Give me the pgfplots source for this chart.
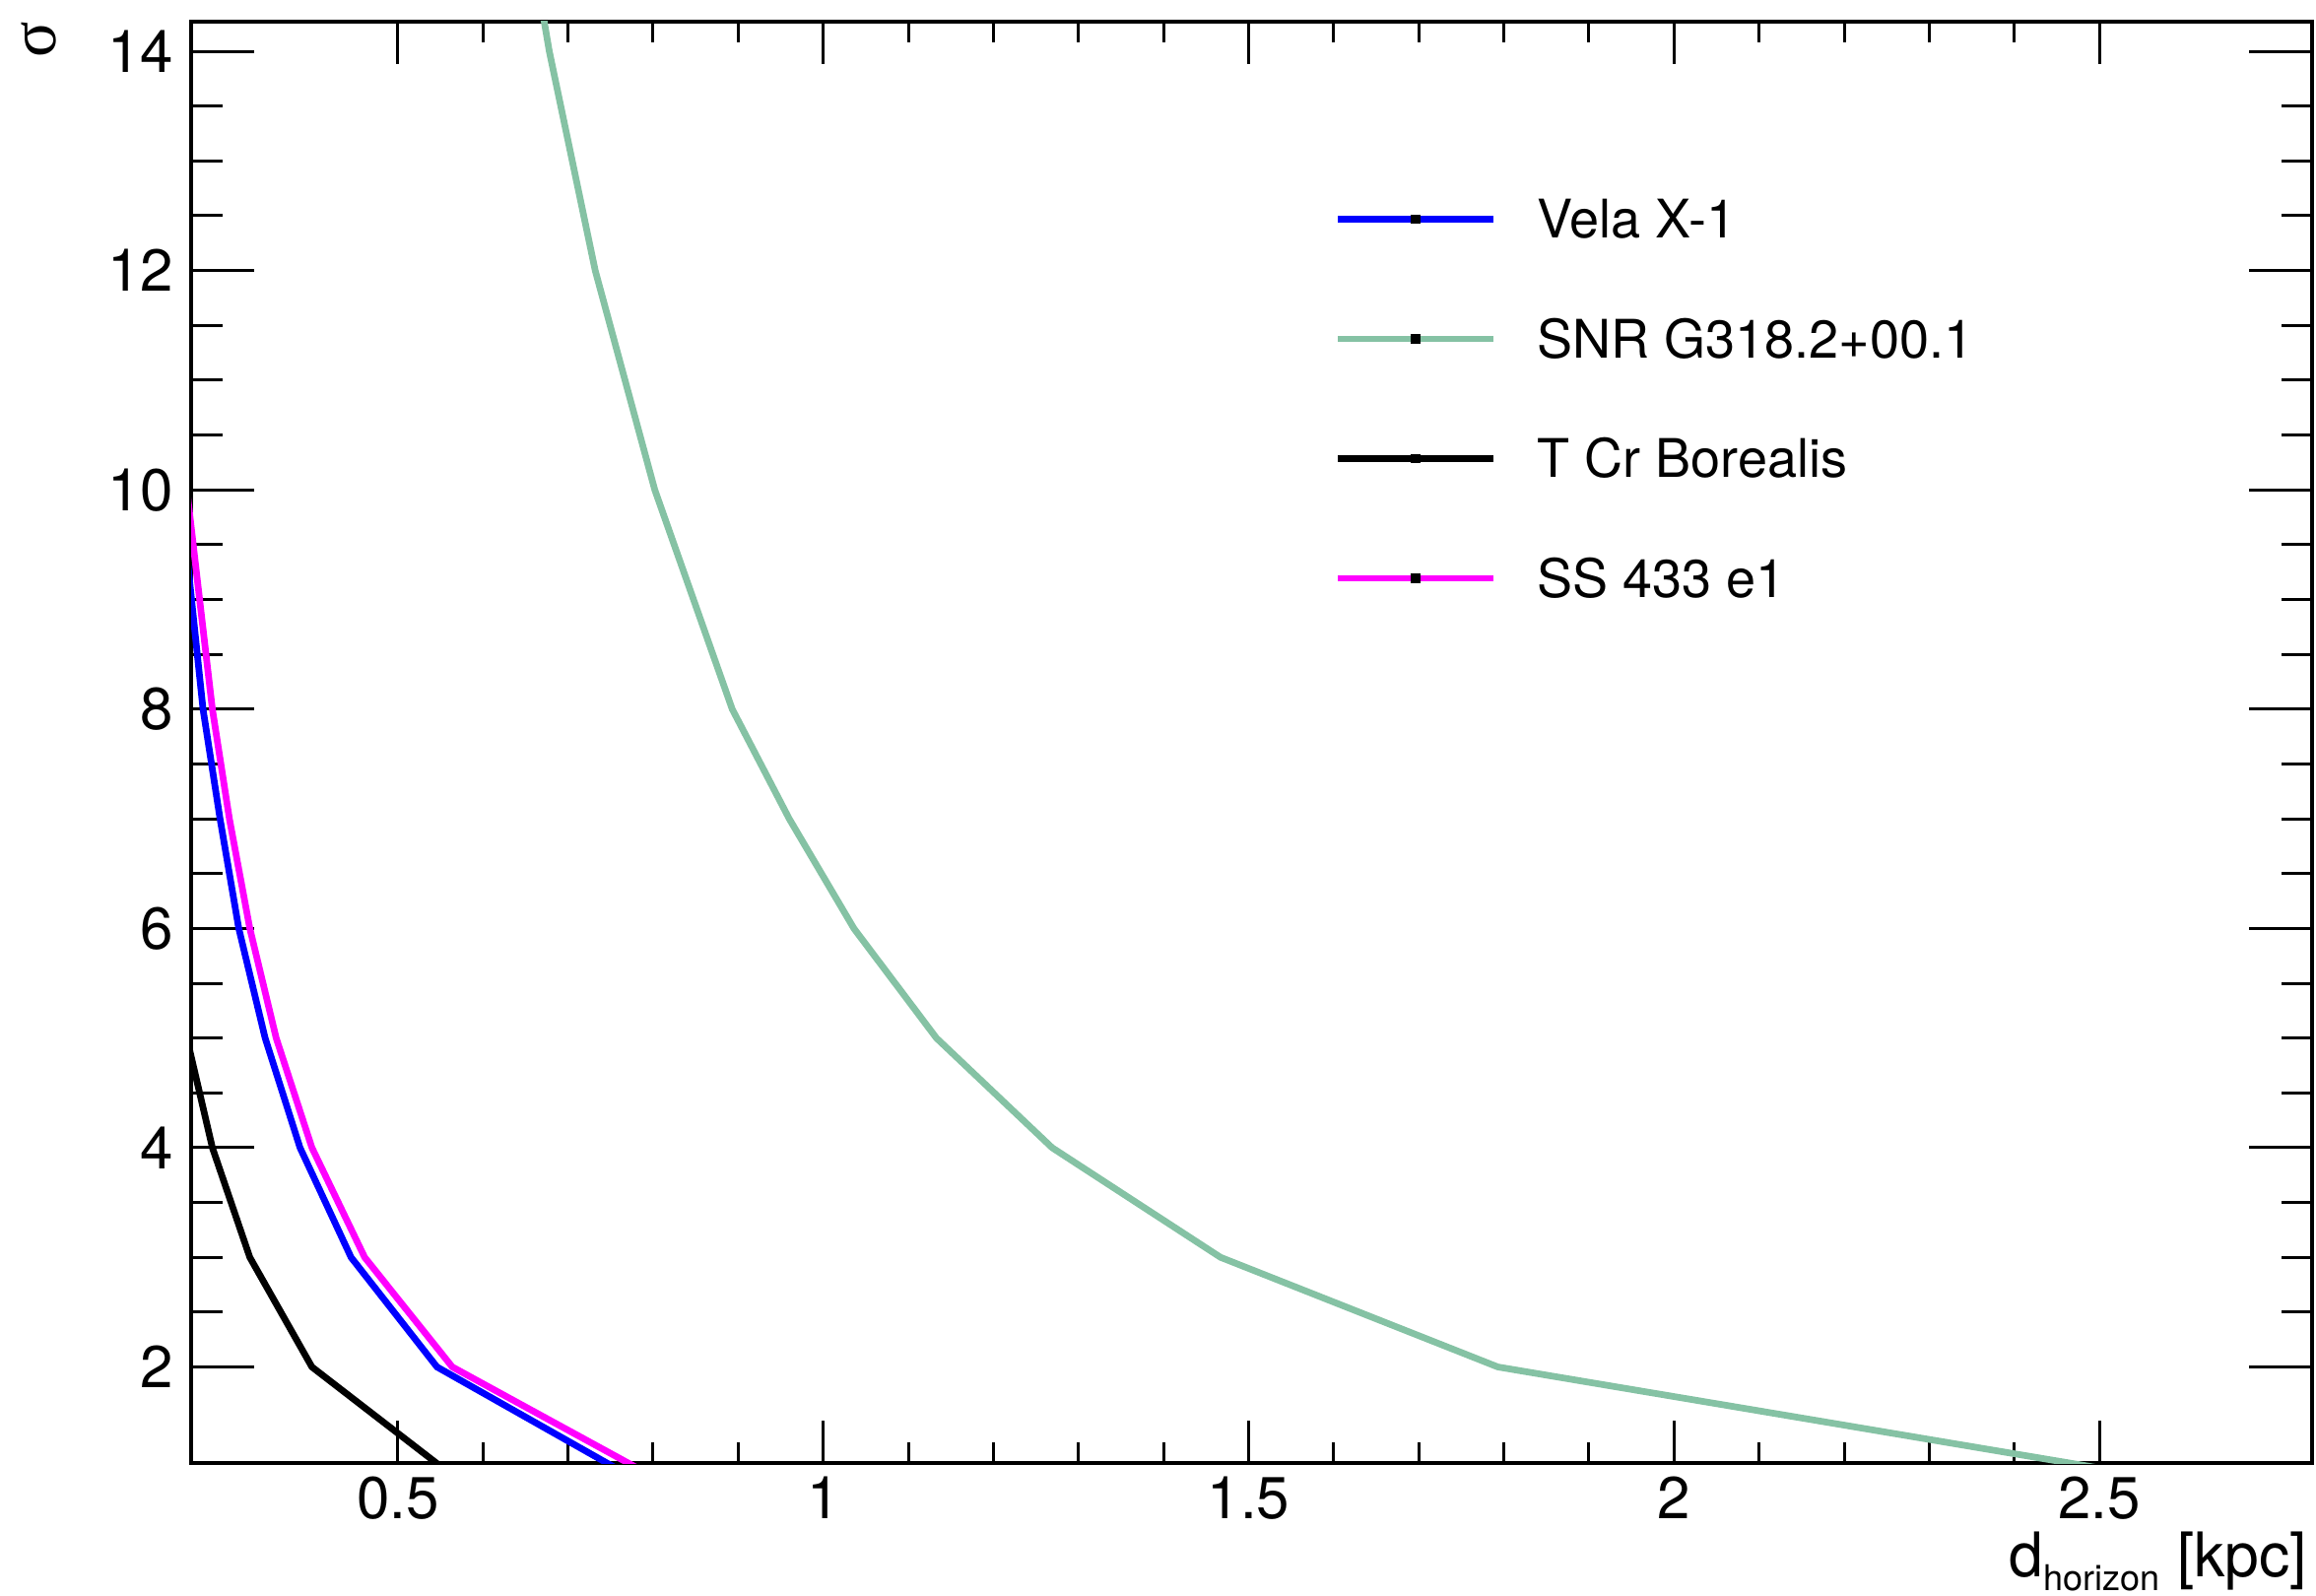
\documentclass[border=0pt]{standalone}
\usepackage{fontspec}
\setmainfont{TeX Gyre Heros}
\newfontfamily\greekfont{Liberation Serif}
\usepackage{pgfplots}
\pgfplotsset{compat=1.18}
\definecolor{snrgreen}{RGB}{133,194,164}
\definecolor{ssmagenta}{RGB}{255,0,255}
\definecolor{velablue}{RGB}{0,0,255}

\begin{document}
\begin{tikzpicture}
\useasboundingbox (-38.8pt,-26.8pt) rectangle (431.4pt,297pt);
\begin{axis}[
  at={(0,0)}, anchor=south west,
  scale only axis, width=430.6pt, height=292.6pt,
  xmin=0.257, xmax=2.75, ymin=1.124, ymax=14.27,
  xtick={0.5,1,1.5,2,2.5}, ytick={2,4,6,8,10,12,14},
  minor x tick num=4, minor y tick num=3,
  tick align=inside,
  axis line style={line width=0.8pt},
  tick style={black, line width=0.6pt},
  x tick style={/pgfplots/major tick length=8.7pt, /pgfplots/minor tick length=4.2pt},
  y tick style={/pgfplots/major tick length=12.8pt, /pgfplots/minor tick length=6.3pt},
  /pgf/number format/assume math mode=true,
  tick label style={font=\fontsize{12}{14}\selectfont},
  xticklabel style={yshift=0.8pt},
  xlabel={d\raisebox{-2.8pt}{\fontsize{7.2}{9}\selectfont horizon} [kpc]},
  xlabel style={at={(rel axis cs:1,0)}, anchor=base east, yshift=-23pt, xshift=-0.8pt,
    inner sep=0pt, font=\fontsize{12.5}{15}\selectfont},
  ylabel={σ},
  ylabel style={at={(axis description cs:-0.0715,0.9874)}, anchor=center,
    inner sep=0pt, font=\greekfont\fontsize{13.5}{16}\selectfont},
  legend cell align=left,
  legend image code/.code={
    \draw[#1] (0pt,0pt) -- (31.5pt,0pt);
    \fill[black] (15.4pt,-0.3pt) rectangle (16.0pt,0.3pt);
  },
  legend style={at={(axis description cs:0.5388,0.8770)}, anchor=north west,
    draw=none, fill=none, inner sep=0pt, row sep=16.5pt, column sep=8.3pt,
    nodes={inner sep=0pt, text height=7.8pt, text depth=0pt},
    font=\fontsize{10.8}{12}\selectfont},
]
% Vela X-1
\addplot[velablue, line width=1.35pt, mark=none] coordinates {
  (0.774,1) (0.546,2) (0.445,3) (0.385,4) (0.344,5) (0.313,6)
  (0.291,7) (0.271,8) (0.244,10) (0.223,12) (0.206,14) (0.193,16)
};
\addlegendentry{Vela X-1}
% SNR G318.2+00.1
\addplot[snrgreen, line width=1.35pt, mark=none] coordinates {
  (2.560,1) (1.793,2) (1.467,3) (1.269,4) (1.133,5) (1.036,6)
  (0.960,7) (0.893,8) (0.802,10) (0.732,12) (0.678,14) (0.634,16)
};
\addlegendentry{SNR G318.2+00.1}
% T Cr Borealis
\addplot[black, line width=1.35pt, mark=none] coordinates {
  (0.566,1) (0.399,2) (0.326,3) (0.282,4) (0.252,5) (0.230,6)
  (0.213,7) (0.200,8) (0.178,10) (0.163,12) (0.151,14) (0.141,16)
};
\addlegendentry{T Cr Borealis}
% SS 433 e1
\addplot[ssmagenta, line width=1.35pt, mark=none] coordinates {
  (0.800,1) (0.564,2) (0.461,3) (0.399,4) (0.357,5) (0.326,6)
  (0.302,7) (0.282,8) (0.252,10) (0.230,12) (0.213,14) (0.200,16)
};
\addlegendentry{SS 433 e1}
\end{axis}
\end{tikzpicture}
\end{document}
